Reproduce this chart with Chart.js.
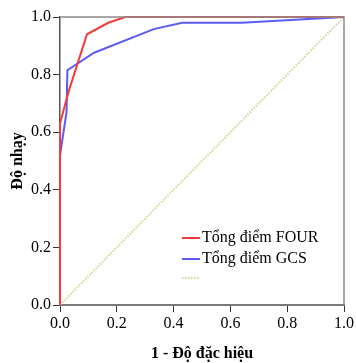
<!DOCTYPE html>
<html>
<head>
<meta charset="utf-8">
<script src="https://cdn.jsdelivr.net/npm/chart.js@4/dist/chart.umd.min.js"></script>
<style>
  html, body { margin:0; padding:0; background:#fff; }
  #wrap { width:356px; height:363px; }
</style>
</head>
<body>
<div id="wrap"><canvas id="grafRoc" width="356" height="363"></canvas></div>
<script>
/* ===== DATOS ===== */
const etiquetas = ["Tổng điểm FOUR", "Tổng điểm GCS", ""];

const fourX = [0, 0, 0.03, 0.095, 0.17, 0.23, 1];
const fourY = [0, 0.63, 0.74, 0.94, 0.98, 1, 1];

const gcsX = [0, 0, 0.023, 0.026, 0.12, 0.33, 0.43, 0.64, 1];
const gcsY = [0, 0.52, 0.67, 0.815, 0.876, 0.958, 0.98, 0.98, 1];

const refX = [0, 1];
const refY = [0, 1];

const ticksEje = [0, 0.2, 0.4, 0.6, 0.8, 1.0];

const colores = ["#f43c3c", "#5b5bf5", "#d8d096"];

/* ===== ARMAR PUNTOS ===== */
function puntos(xs, ys){
    return xs.map((x,i)=>({x:x, y:ys[i]}));
}

const fuente = "'Liberation Serif', 'Times New Roman', serif";

/* marco y leyenda interna */
const marco = {
    id:"marco",
    afterDatasetsDraw(chart){
        const a = chart.chartArea;
        const ctx = chart.ctx;
        ctx.save();
        ctx.strokeStyle = "#8a8a8a";
        ctx.lineWidth = 1.5;
        ctx.beginPath();
        ctx.moveTo(a.left, a.top);
        ctx.lineTo(a.right, a.top);
        ctx.lineTo(a.right, a.bottom);
        ctx.stroke();

        // leyenda
        ctx.font = "16px " + fuente;
        ctx.textBaseline = "middle";
        ctx.fillStyle = "#000";
        const filas = [238, 259, 278];
        chart.data.datasets.forEach((ds,i)=>{
            ctx.strokeStyle = ds.borderColor;
            ctx.lineWidth = 2;
            ctx.setLineDash(ds.borderDash || []);
            ctx.beginPath();
            ctx.moveTo(182, filas[i]);
            ctx.lineTo(200, filas[i]);
            ctx.stroke();
            ctx.setLineDash([]);
            ctx.fillText(ds.label, 202, filas[i]);
        });
        ctx.restore();
    }
};

new Chart(document.getElementById("grafRoc"), {
    type:"scatter",
    data:{
        datasets:[
            {
                label:etiquetas[0],
                data:puntos(fourX, fourY),
                showLine:true,
                borderColor:colores[0],
                borderWidth:2,
                pointRadius:0,
                clip:false,
                order:1
            },
            {
                label:etiquetas[1],
                data:puntos(gcsX, gcsY),
                showLine:true,
                borderColor:colores[1],
                borderWidth:2,
                pointRadius:0,
                clip:false,
                order:2
            },
            {
                label:etiquetas[2],
                data:puntos(refX, refY),
                showLine:true,
                borderColor:colores[2],
                borderWidth:2,
                borderDash:[1.5,1.5],
                pointRadius:0,
                clip:false,
                order:3
            }
        ]
    },
    options:{
        responsive:false,
        animation:false,
        layout:{ padding:{ top:17, right:10, left:0, bottom:0 } },
        plugins:{ legend:{ display:false }, tooltip:{ enabled:false } },
        scales:{
            x:{
                type:"linear",
                min:0, max:1,
                afterFit(s){ s.height = 58; },
                afterBuildTicks(s){ s.ticks = ticksEje.map(v=>({value:v})); },
                ticks:{
                    callback:v=>v.toFixed(1),
                    color:"#000",
                    padding:2,
                    font:{ family:fuente, size:16 }
                },
                grid:{ drawOnChartArea:false, tickLength:7, color:"#333", lineWidth:1 },
                border:{ color:"#7a7a7a", width:2 },
                title:{
                    display:true,
                    text:"1 - Độ đặc hiệu",
                    color:"#000",
                    font:{ family:fuente, size:16, weight:"bold" },
                    padding:{ top:5, bottom:0 }
                }
            },
            y:{
                type:"linear",
                min:0, max:1,
                afterFit(s){ s.width = 60; },
                afterBuildTicks(s){ s.ticks = ticksEje.map(v=>({value:v})); },
                ticks:{
                    callback:v=>v.toFixed(1),
                    color:"#000",
                    padding:2,
                    font:{ family:fuente, size:16 }
                },
                grid:{ drawOnChartArea:false, tickLength:7, color:"#333", lineWidth:1 },
                border:{ color:"#555", width:1.5 },
                title:{
                    display:true,
                    text:"Độ nhạy",
                    color:"#000",
                    font:{ family:fuente, size:16, weight:"bold" },
                    padding:{ top:8, bottom:0 }
                }
            }
        }
    },
    plugins:[marco]
});
</script>
</body>
</html>
